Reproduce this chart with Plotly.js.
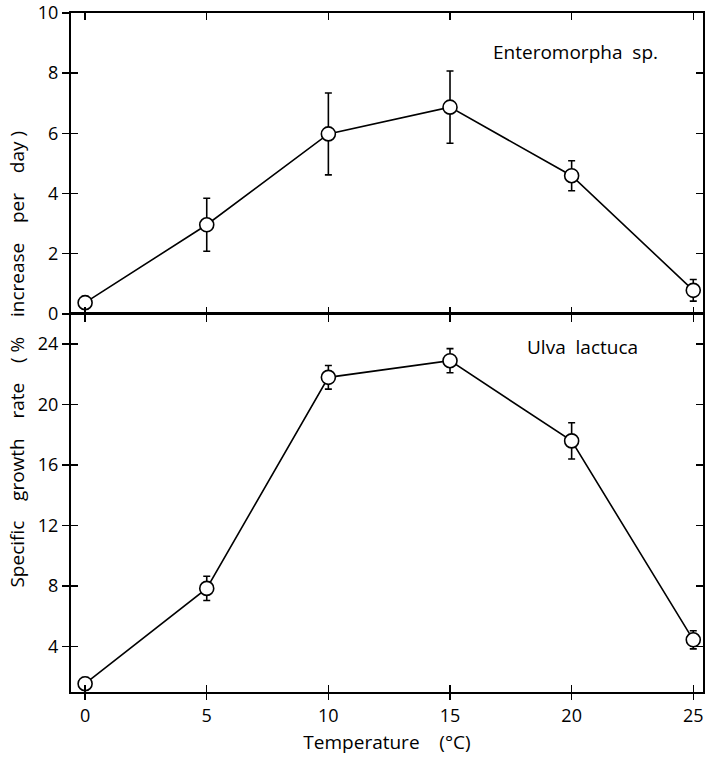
<!DOCTYPE html>
<html>
<head>
<meta charset="utf-8">
<script src="https://cdn.plot.ly/plotly-3.0.1.min.js"></script>
<style>html,body{margin:0;padding:0;background:#fff;}#chart{width:705px;height:758px;}</style>
</head>
<body>
<div id="chart"></div>
<script>
// Data
var temps = [0, 5, 10, 15, 20, 25];
var enteroRate = [0.37, 2.96, 5.98, 6.87, 4.59, 0.78];
var enteroErr = [0.2, 0.88, 1.36, 1.2, 0.5, 0.36];
var ulvaRate = [1.55, 7.85, 21.8, 22.9, 17.6, 4.45];
var ulvaErr = [0.4, 0.8, 0.78, 0.8, 1.2, 0.6];
var xTicks = [0, 5, 10, 15, 20, 25];
var topYTicks = [0, 2, 4, 6, 8, 10];
var botYTicks = [4, 8, 12, 16, 20, 24];
var enteroLabel = "Enteromorpha\u00a0 sp.";
var ulvaLabel = "Ulva\u00a0 lactuca";
var G = "\u00a0\u00a0\u00a0\u00a0";
var xTitle = "Temperature" + G + "(\u00b0C)";
var yTitle = ["Specific", "growth", "rate", "(\u00a0%", "increase", "per", "day\u00a0)"].join(G);

var FONT = "Open Sans, Liberation Sans, sans-serif";
var black = "#000";

function series(y, err, xa, ya) {
  return {
    x: temps, y: y, xaxis: xa, yaxis: ya, type: "scatter", mode: "lines+markers",
    line: {color: black, width: 1.6},
    marker: {symbol: "circle", size: 14, color: "#fff", line: {color: black, width: 1.6}},
    error_y: {type: "data", array: err, visible: true, color: black, thickness: 1.6, width: 3.5},
    cliponaxis: false, showlegend: false, hoverinfo: "skip"
  };
}
function dummy(xa, ya) {
  return {x: [], y: [], xaxis: xa, yaxis: ya, type: "scatter", mode: "markers", showlegend: false, hoverinfo: "skip"};
}

var data = [
  dummy("x3", "y3"),
  dummy("x4", "y4"),
  series(enteroRate, enteroErr, "x", "y"),
  series(ulvaRate, ulvaErr, "x2", "y2")
];

var xRange = [-0.58, 25.4];
var split = 0.557;
var tickFont = {family: FONT, size: 18, color: black};
var textFont = {family: FONT, size: 19, color: black};

function mainX(anchor) {
  return {range: xRange, anchor: anchor, tickvals: xTicks, ticks: "inside", ticklen: 7, tickwidth: 1.5,
    tickcolor: black, showline: true, linecolor: black, linewidth: 1.6, mirror: "ticks",
    showgrid: false, zeroline: false, showticklabels: false, fixedrange: true};
}
function overX(over, anchor, labels) {
  return {range: xRange, overlaying: over, anchor: anchor, tickvals: xTicks, ticks: "outside", ticklen: 7,
    tickwidth: 1.5, tickcolor: black, showline: false, showgrid: false, zeroline: false,
    showticklabels: labels, tickfont: tickFont, fixedrange: true};
}
function mainY(anchor, dom, rng, tv) {
  return {domain: dom, range: rng, anchor: anchor, tickvals: tv, ticks: "inside", ticklen: 7, tickwidth: 1.5,
    tickcolor: black, showline: true, linecolor: black, linewidth: 1.6, mirror: "ticks",
    showgrid: false, zeroline: false, showticklabels: false, fixedrange: true};
}
function overY(over, anchor, dom, rng, tv) {
  return {domain: dom, range: rng, overlaying: over, anchor: anchor, tickvals: tv, ticks: "outside", ticklen: 8,
    tickwidth: 1.5, tickcolor: black, showline: false, showgrid: false, zeroline: false,
    showticklabels: true, tickfont: tickFont, fixedrange: true};
}

var topDom = [split, 1], botDom = [0, split];
var topRange = [0, 10], botRange = [1, 26];

var layout = {
  width: 705, height: 758,
  margin: {l: 71, r: 2, t: 13, b: 66},
  paper_bgcolor: "#fff", plot_bgcolor: "rgba(0,0,0,0)",
  font: {family: FONT, color: black},
  showlegend: false,
  xaxis: mainX("y"),
  yaxis: mainY("x", topDom, topRange, topYTicks),
  xaxis2: mainX("y2"),
  yaxis2: mainY("x2", botDom, botRange, botYTicks),
  xaxis3: overX("x", "y3", false),
  yaxis3: overY("y", "x3", topDom, topRange, topYTicks),
  xaxis4: Object.assign(overX("x2", "y4", true), {title: {text: xTitle, font: textFont, standoff: 10}}),
  yaxis4: overY("y2", "x4", botDom, botRange, botYTicks),
  annotations: [
    {text: enteroLabel, xref: "paper", yref: "paper", x: 0.799, y: 0.942, showarrow: false,
     font: textFont, xanchor: "center", yanchor: "middle"},
    {text: ulvaLabel, xref: "paper", yref: "paper", x: 0.81, y: 0.508, showarrow: false,
     font: textFont, xanchor: "center", yanchor: "middle"},
    {text: yTitle, xref: "paper", yref: "paper", x: -0.085, y: 0.49, textangle: -90, showarrow: false,
     font: textFont, xanchor: "center", yanchor: "middle"}
  ]
};

Plotly.newPlot("chart", data, layout, {displayModeBar: false, staticPlot: true});
</script>
</body>
</html>
